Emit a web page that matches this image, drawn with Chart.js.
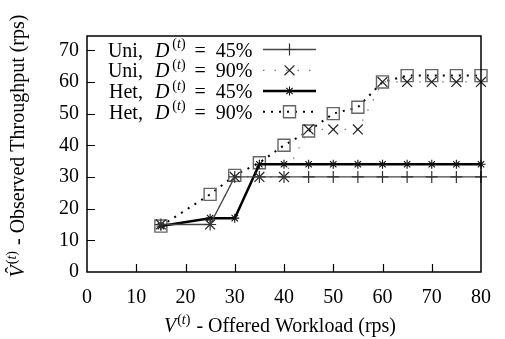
<!DOCTYPE html>
<html><head><meta charset="utf-8">
<script src="https://cdn.jsdelivr.net/npm/chart.js@4"></script>
<style>html,body{margin:0;padding:0;background:#fff}#wrap{width:505px;height:339px}</style>
</head><body><div id="wrap"><canvas id="c" width="505" height="339"></canvas></div>
<script>
const workload = [15, 25, 30, 35, 40, 45, 50, 55, 60, 65, 70, 75, 80];
const uni45 = [15, 15, 30, 30, 30, 30, 30, 30, 30, 30, 30, 30, 30];
const uni90 = [15, 15, 30, 30, 30, 45, 45, 45, 60, 60, 60, 60, 60];
const het45 = [14.5, 17, 17, 34, 34, 34, 34, 34, 34, 34, 34, 34, 34];
const het90 = [14.5, 24.5, 30.5, 34.5, 40, 44.5, 50, 52, 60, 62, 62, 62, 62];
const xTicks = [0, 10, 20, 30, 40, 50, 60, 70, 80];
const yTicks = [0, 10, 20, 30, 40, 50, 60, 70];
const seriesKind = ['Uni', 'Uni', 'Het', 'Het'];
const seriesDemand = ['45%', '90%', '45%', '90%'];

const SERIF = '"Liberation Serif", "Times New Roman", serif';
const pts = arr => workload.map((v, i) => ({x: v, y: arr[i]}));

const styles = [
  {borderColor: '#444', borderWidth: 1.3, borderDash: [], pointStyle: 'cross', pointRadius: 6, pointBorderColor: '#333', pointBorderWidth: 1.2},
  {borderColor: '#777', borderWidth: 1.2, borderDash: [1.5, 10], pointStyle: 'crossRot', pointRadius: 7, pointBorderColor: '#222', pointBorderWidth: 1.2},
  {borderColor: '#000', borderWidth: 2.5, borderDash: [], pointStyle: 'star', pointRadius: 4.5, pointBorderColor: '#111', pointBorderWidth: 1.1},
  {borderColor: '#000', borderWidth: 2, borderDash: [2, 6], pointStyle: 'rect', pointRadius: 8.5, pointBorderColor: '#666', pointBorderWidth: 1.4}
];
const seriesData = [uni45, uni90, het45, het90];

const datasets = seriesData.map((d, i) => Object.assign({
  label: seriesKind[i] + ', D(t) = ' + seriesDemand[i],
  data: pts(d),
  backgroundColor: 'rgba(0,0,0,0)',
  pointBackgroundColor: 'rgba(0,0,0,0)',
  pointHoverRadius: 0,
  tension: 0,
  clip: false,
  fill: false
}, styles[i]));

function richText(ctx, parts, x, y, align, size) {
  const sup = Math.round(size * 0.72);
  const font = p => (p.i ? 'italic ' : '') + (p.s ? sup : size) + 'px ' + SERIF;
  const wOf = p => { ctx.font = font(p); return ctx.measureText(p.t).width + (p.g || 0); };
  let w = 0;
  parts.forEach(p => { w += wOf(p); });
  let cx = align === 'right' ? x - w : align === 'center' ? x - w / 2 : x;
  const out = [];
  parts.forEach(p => {
    ctx.font = font(p);
    ctx.fillText(p.t, cx, p.s ? y - size * 0.42 : y);
    const pw = wOf(p);
    out.push({x: cx, w: pw, p});
    cx += pw;
  });
  return out;
}

const supT = [{t: '(', s: 1}, {t: 't', s: 1, i: 1}, {t: ')', s: 1, g: 1}];

const deco = {
  id: 'deco',
  afterDraw(chart) {
    const {ctx, chartArea: a} = chart;
    const x = chart.scales.x, y = chart.scales.y;
    ctx.save();
    ctx.strokeStyle = '#000';
    ctx.lineWidth = 1.5;
    ctx.setLineDash([]);
    ctx.strokeRect(a.left, a.top, a.right - a.left, a.bottom - a.top);
    ctx.lineWidth = 1.2;
    ctx.beginPath();
    xTicks.forEach(v => {
      if (v === xTicks[0] || v === xTicks[xTicks.length - 1]) return;
      const px = Math.round(x.getPixelForValue(v)) + 0.5;
      ctx.moveTo(px, a.bottom); ctx.lineTo(px, a.bottom - 8);
    });
    yTicks.forEach(v => {
      if (v === yTicks[0]) return;
      const py = Math.round(y.getPixelForValue(v)) + 0.5;
      ctx.moveTo(a.left, py); ctx.lineTo(a.left + 8, py);
    });
    ctx.stroke();

    ctx.fillStyle = '#000';
    ctx.textBaseline = 'alphabetic';
    // x title
    richText(ctx, [{t: 'V', i: 1, g: 1}].concat(supT, [{t: ' - Offered Workload (rps)'}]), 280, 332, 'center', 20);
    // y title
    ctx.save();
    ctx.translate(24, 146);
    ctx.rotate(-Math.PI / 2);
    const r = richText(ctx, [{t: 'V', i: 1, g: 1}].concat(supT, [{t: ' - Observed Throughput (rps)'}]), 0, 0, 'center', 20);
    ctx.font = '20px ' + SERIF;
    ctx.fillText('\u02C6', r[0].x + 4, -4);
    ctx.restore();

    // legend
    const rows = [49.5, 70.3, 91, 111.8];
    chart.data.datasets.forEach((ds, i) => {
      const ly = rows[i];
      richText(ctx, [{t: seriesKind[i] + ',', g: 12}, {t: 'D', i: 1, g: 3}].concat(
        [{t: '(', s: 1}, {t: 't', s: 1, i: 1}, {t: ')', s: 1, g: 9}],
        [{t: '=', g: 10}, {t: seriesDemand[i]}]), 252.5, ly + 7, 'right', 20);
      ctx.save();
      ctx.strokeStyle = ds.borderColor;
      ctx.lineWidth = ds.borderWidth;
      ctx.setLineDash(ds.borderDash);
      ctx.beginPath();
      ctx.moveTo(263, ly); ctx.lineTo(316, ly);
      ctx.stroke();
      ctx.restore();
      ctx.save();
      ctx.strokeStyle = ds.pointBorderColor;
      ctx.lineWidth = ds.pointBorderWidth;
      ctx.fillStyle = 'rgba(0,0,0,0)';
      Chart.helpers.drawPoint(ctx, {pointStyle: ds.pointStyle, radius: ds.pointRadius, borderWidth: ds.pointBorderWidth, rotation: 0}, 289.5, ly);
      ctx.restore();
    });
    ctx.restore();
  }
};

new Chart(document.getElementById('c'), {
  type: 'line',
  data: {datasets},
  options: {
    responsive: false,
    animation: false,
    devicePixelRatio: 1,
    layout: {padding: {top: 36, right: 20, left: 0, bottom: 0}},
    plugins: {legend: {display: false}, tooltip: {enabled: false}},
    events: [],
    scales: {
      x: {
        type: 'linear', min: 0, max: 80,
        afterBuildTicks: s => { s.ticks = xTicks.map(v => ({value: v})); },
        afterFit: s => { s.height = 67; },
        grid: {display: false, drawTicks: false},
        border: {display: false},
        ticks: {color: '#000', font: {family: SERIF, size: 20}, padding: 14, maxRotation: 0, autoSkip: false}
      },
      y: {
        type: 'linear', min: 0, max: 74.5,
        afterBuildTicks: s => { s.ticks = yTicks.map(v => ({value: v})); },
        afterFit: s => { s.width = 87; },
        grid: {display: false, drawTicks: false},
        border: {display: false},
        ticks: {color: '#000', font: {family: SERIF, size: 20}, padding: 8, autoSkip: false}
      }
    }
  },
  plugins: [deco]
});
</script></body></html>
